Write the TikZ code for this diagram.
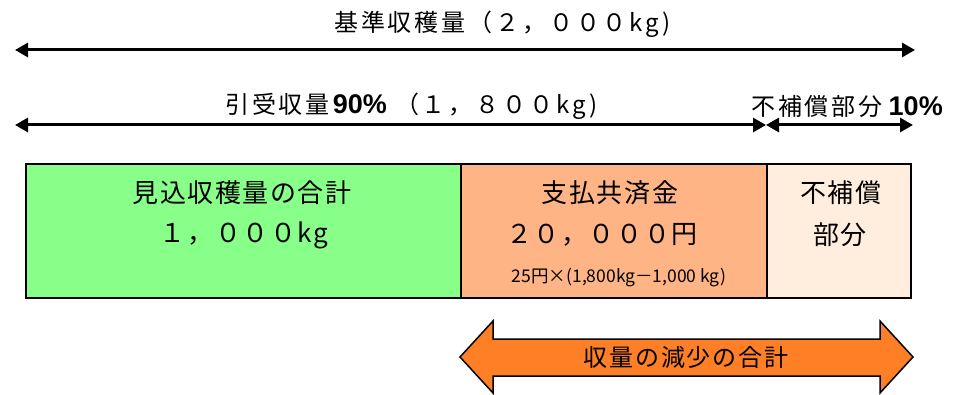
\documentclass[tikz,border=0pt]{standalone}
\usepackage{fontspec}
\setmainfont{Noto Sans CJK JP}
\newfontfamily\jpwide[LetterSpace=12]{Noto Sans CJK JP}
\newfontfamily\jpbox[LetterSpace=6]{Noto Sans CJK JP}
\newfontfamily\jpmid[LetterSpace=8]{Noto Sans CJK JP}
\newfontfamily\latinbold{Liberation Sans}
\usetikzlibrary{arrows.meta}
\definecolor{boxgreen}{HTML}{88FF88}
\definecolor{boxorange}{HTML}{FFB486}
\definecolor{boxlight}{HTML}{FFEEDE}
\definecolor{arroworange}{HTML}{FF7F27}
\tikzset{
  dimarrow/.style={line width=3pt, {Triangle[length=13pt,width=14pt]}-{Triangle[length=13pt,width=14pt]}},
  areabox/.style={draw=black, line width=2pt, anchor=north west, inner sep=0pt},
  toplabel/.style={inner sep=0pt, font=\jpwide\fontsize{24}{27}\selectfont},
  boxlabel/.style={inner sep=0pt, font=\jpbox\fontsize{26}{29}\selectfont},
  smalllabel/.style={inner sep=0pt, font=\fontsize{17.5}{20}\selectfont},
  bigarrow/.style={draw=black, line width=1.5pt, fill=arroworange, line join=miter}
}
\newcommand{\pctbold}[1]{{\latinbold\bfseries\fontsize{27}{29}\selectfont #1}}
\begin{document}
\begin{tikzpicture}[x=1pt,y=-1pt]
\useasboundingbox (0,0) rectangle (953,395);
% top dimension arrows
\coordinate (a1l) at (15,50);
\coordinate (a1r) at (915,50);
\draw[dimarrow] (a1l) -- (a1r);
\node[toplabel, anchor=west] (t1) at (334,24) {基準収穫量（２，０００kg)};
\coordinate (a2l) at (15,125);
\coordinate (a2m) at (766,125);
\coordinate (a2r) at (913,125);
\draw[dimarrow] (a2l) -- (a2m);
\draw[dimarrow] (a2m) -- (a2r);
\node[toplabel, anchor=west] (t2) at (225,106) {引受収量\hspace{3pt}\pctbold{90\%} （１，８００kg)};
\node[toplabel, anchor=west] (t3) at (751,106) {不補償部分\hspace{6pt}\pctbold{10\%}};
% boxes
\node[areabox, fill=boxgreen, minimum width=435pt, minimum height=134pt] (g) at (25,163) {};
\node[areabox, fill=boxorange, minimum width=306pt, minimum height=134pt] (o) at (460,163) {};
\node[areabox, fill=boxlight, minimum width=144pt, minimum height=134pt] (l) at (766,163) {};
\node[boxlabel] (g1) at (242,193) {見込収穫量の合計};
\node[boxlabel] (g2) at (244,235) {１，０００kg};
\node[boxlabel] (o1) at (610,193) {支払共済金};
\node[boxlabel] (o2) at (602,235) {２０，０００円};
\node[smalllabel] (o3) at (619,278) {25円×(1,800kg－1,000 kg)};
\node[boxlabel] (l1) at (841,193) {不補償};
\node[boxlabel] (l2) at (840,235) {部分};
% bottom double arrow
\draw[bigarrow] (460,357) -- (493,321) -- (493,339) -- (880,339) -- (880,321) -- (913,357)
  -- (880,393) -- (880,376) -- (493,376) -- (493,393) -- cycle;
\node[inner sep=0pt, font=\jpmid\fontsize{24}{27}\selectfont] (b1) at (686,357) {収量の減少の合計};
\end{tikzpicture}
\end{document}
